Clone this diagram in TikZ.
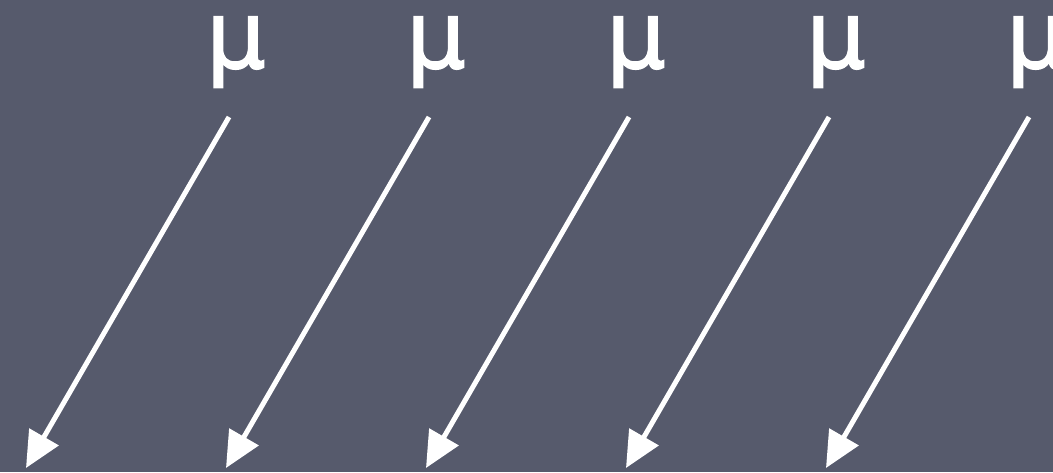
\documentclass[tikz,border=0pt]{standalone}
\usepackage{fontspec}
\newfontfamily\mufont[FakeBold=1.6]{DejaVu Sans}
\usetikzlibrary{arrows.meta}
\definecolor{bg}{RGB}{86,90,108}
\tikzset{
  mulabel/.style={text=white, inner sep=0pt, anchor=base, text height=50pt, text depth=21pt, font=\mufont\fontsize{94}{100}\selectfont},
  muarrow/.style={draw=white, line width=5pt, -{Triangle[length=36pt,width=33pt]}},
}
\begin{document}
\begin{tikzpicture}[x=1pt,y=-1pt]
\fill[bg] (0,0) rectangle (1053,472);
\useasboundingbox (0,0) rectangle (1053,472);
\foreach \i in {0,...,4}{
  \node[mulabel] (m\i) at (236+200*\i,68) {μ};
  \coordinate (s\i) at (229+200*\i,117);
  \coordinate (t\i) at (26+200*\i,468);
  \draw[muarrow] (s\i) -- (t\i);
}
\end{tikzpicture}
\end{document}
